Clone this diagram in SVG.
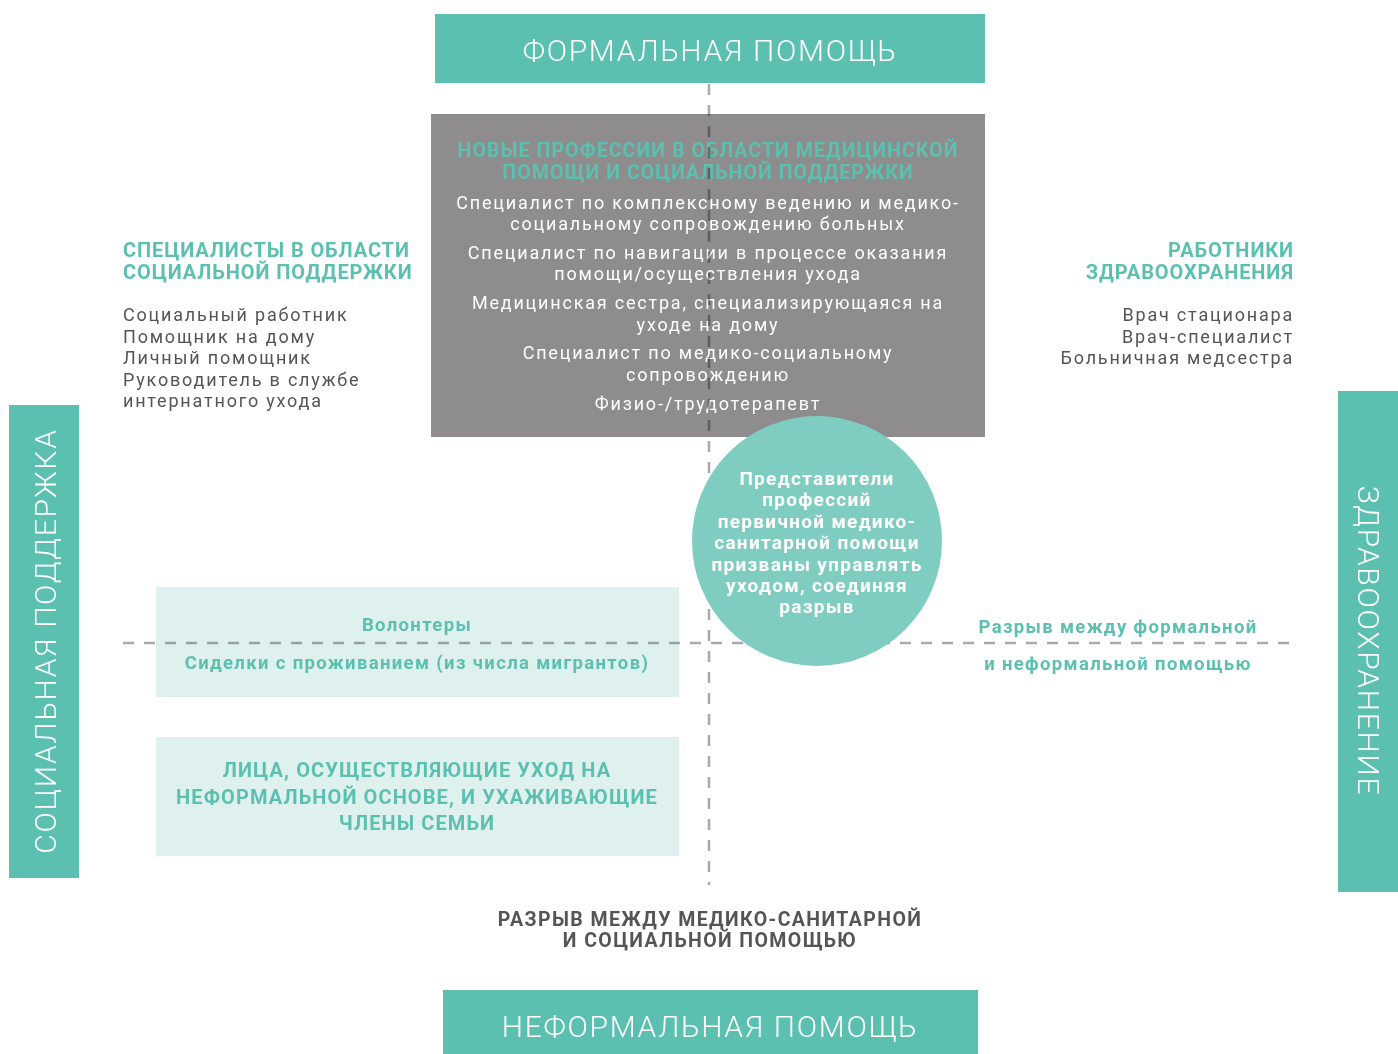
<svg xmlns="http://www.w3.org/2000/svg" width="1398" height="1054" viewBox="0 0 1398 1054">
<style>
text{font-family:Roboto,"DejaVu Sans",sans-serif}
.hdr{fill:#fff;font-size:30px;font-weight:300;letter-spacing:1.7px;text-anchor:middle}
.bar{fill:#5cc0b1}
.ttl{fill:#5cc0b1;font-size:20px;font-weight:700;letter-spacing:0.9px}
.gttl{fill:#5cc0b1;font-size:19.5px;font-weight:700;letter-spacing:1.1px;text-anchor:middle}
.gbody{fill:#fff;font-size:18px;letter-spacing:1.8px;text-anchor:middle}
.body{fill:#555;font-size:18px;letter-spacing:1.8px}
.circ{fill:#fff;font-size:19px;font-weight:700;letter-spacing:1.3px;text-anchor:middle}
.tb{fill:#5cc0b1;font-size:18.5px;font-weight:700;letter-spacing:1.35px;text-anchor:middle}
.tc{fill:#5cc0b1;font-size:20px;font-weight:700;letter-spacing:1.1px;text-anchor:middle}
.gap{fill:#555;font-size:19.5px;font-weight:700;letter-spacing:1.4px;text-anchor:middle}
.dash{stroke:#aaa;stroke-width:2.5;stroke-dasharray:11 10;fill:none}
</style>
<rect width="1398" height="1054" fill="#fff"/>

<g id="formal">
<rect class="bar" x="435" y="14" width="550" height="69"/>
<text class="hdr" x="710" y="61">ФОРМАЛЬНАЯ ПОМОЩЬ</text>
</g>

<g id="informal">
<rect class="bar" x="443" y="990" width="535" height="64"/>
<text class="hdr" x="710" y="1037">НЕФОРМАЛЬНАЯ ПОМОЩЬ</text>
</g>

<g id="social-axis">
<rect class="bar" x="9" y="405" width="70" height="473"/>
<text class="hdr" transform="translate(56 641) rotate(-90)">СОЦИАЛЬНАЯ ПОДДЕРЖКА</text>
</g>

<g id="health-axis">
<rect class="bar" x="1338" y="391" width="60" height="501"/>
<text class="hdr" transform="translate(1358 641) rotate(90)">ЗДРАВООХРАНЕНИЕ</text>
</g>

<g id="new-professions">
<rect x="431" y="114" width="554" height="323" fill="#8e8c8d"/>
<text class="gttl" x="708" y="157">НОВЫЕ ПРОФЕССИИ В ОБЛАСТИ МЕДИЦИНСКОЙ</text>
<text class="gttl" x="708" y="179">ПОМОЩИ И СОЦИАЛЬНОЙ ПОДДЕРЖКИ</text>
<text class="gbody" x="708" y="209">Специалист по комплексному ведению и медико-</text>
<text class="gbody" x="708" y="230">социальному сопровождению больных</text>
<text class="gbody" x="708" y="259">Специалист по навигации в процессе оказания</text>
<text class="gbody" x="708" y="280">помощи/осуществления ухода</text>
<text class="gbody" x="708" y="309">Медицинская сестра, специализирующаяся на</text>
<text class="gbody" x="708" y="331">уходе на дому</text>
<text class="gbody" x="708" y="359">Специалист по медико-социальному</text>
<text class="gbody" x="708" y="381">сопровождению</text>
<text class="gbody" x="708" y="410">Физио-/трудотерапевт</text>
</g>

<g id="volunteers">
<rect x="156" y="587" width="523" height="110" fill="#dff1ee"/>
<text class="tb" x="417" y="631">Волонтеры</text>
<text class="tb" x="417" y="669">Сиделки с проживанием (из числа мигрантов)</text>
</g>

<g id="family">
<rect x="156" y="737" width="523" height="119" fill="#dff1ee"/>
<text class="tc" x="417" y="777">ЛИЦА, ОСУЩЕСТВЛЯЮЩИЕ УХОД НА</text>
<text class="tc" x="417" y="804">НЕФОРМАЛЬНОЙ ОСНОВЕ, И УХАЖИВАЮЩИЕ</text>
<text class="tc" x="417" y="830">ЧЛЕНЫ СЕМЬИ</text>
</g>

<g id="connectors" style="mix-blend-mode:multiply">
<line class="dash" x1="709" y1="84" x2="709" y2="885"/>
<line class="dash" x1="123" y1="643" x2="1295" y2="643"/>
</g>

<g id="primary-care">
<circle cx="817" cy="541" r="125" fill="#7fcdc0"/>
<text class="circ" x="817" y="485">Представители</text>
<text class="circ" x="817" y="506">профессий</text>
<text class="circ" x="817" y="528">первичной медико-</text>
<text class="circ" x="817" y="549">санитарной помощи</text>
<text class="circ" x="817" y="571">призваны управлять</text>
<text class="circ" x="817" y="592">уходом, соединяя</text>
<text class="circ" x="817" y="613">разрыв</text>
</g>

<g id="social-specialists">
<text class="ttl" x="123" y="257">СПЕЦИАЛИСТЫ В ОБЛАСТИ</text>
<text class="ttl" x="123" y="279">СОЦИАЛЬНОЙ ПОДДЕРЖКИ</text>
<text class="body" x="123" y="321">Социальный работник</text>
<text class="body" x="123" y="343">Помощник на дому</text>
<text class="body" x="123" y="364">Личный помощник</text>
<text class="body" x="123" y="386">Руководитель в службе</text>
<text class="body" x="123" y="407">интернатного ухода</text>
</g>

<g id="health-workers">
<text class="ttl" text-anchor="end" x="1294" y="257">РАБОТНИКИ</text>
<text class="ttl" text-anchor="end" x="1294" y="279">ЗДРАВООХРАНЕНИЯ</text>
<text class="body" text-anchor="end" x="1294" y="321">Врач стационара</text>
<text class="body" text-anchor="end" x="1294" y="343">Врач-специалист</text>
<text class="body" text-anchor="end" x="1294" y="364">Больничная медсестра</text>
</g>

<g id="formal-gap">
<text class="tb" x="1118" y="633">Разрыв между формальной</text>
<text class="tb" x="1118" y="670">и неформальной помощью</text>
</g>

<g id="health-social-gap">
<text class="gap" x="710" y="926">РАЗРЫВ МЕЖДУ МЕДИКО-САНИТАРНОЙ</text>
<text class="gap" x="710" y="947">И СОЦИАЛЬНОЙ ПОМОЩЬЮ</text>
</g>
</svg>
